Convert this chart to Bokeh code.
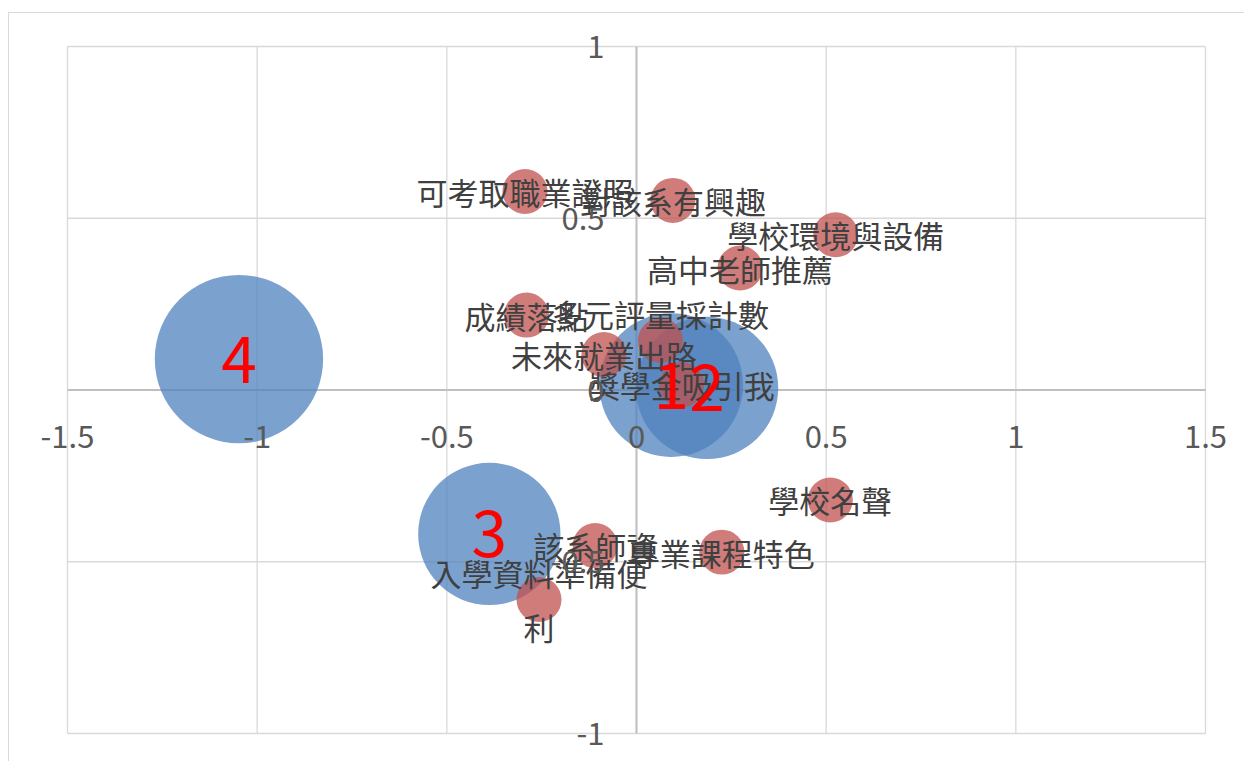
from bokeh.plotting import figure
from bokeh.models import ColumnDataSource, FixedTicker, Range1d, LinearAxis
from bokeh.core.properties import value
from bokeh.embed import file_html
from bokeh.resources import INLINE
import numpy as np

# ---------------- data ----------------
factor_labels = [
    "可考取職業證照", "對該系有興趣", "學校環境與設備", "高中老師推薦",
    "成績落點", "多元評量採計數\n\u3000", "未來就業出路", "獎學金吸引我",
    "學校名聲", "該系師資", "專業課程特色", "入學資料準備便\n利",
]
factor_x = [-0.294, 0.096, 0.525, 0.273, -0.290, 0.063, -0.086, 0.119,
            0.511, -0.109, 0.225, -0.257]
factor_y = [0.578, 0.552, 0.452, 0.355, 0.218, 0.144, 0.103, 0.015,
            -0.320, -0.453, -0.472, -0.610]
factor_size = [1, 1, 1, 1, 1, 1, 1, 1, 1, 1, 1, 1]

cluster_labels = ["1", "2", "3", "4"]
cluster_x = [0.0915, 0.186, -0.388, -1.048]
cluster_y = [0.0145, 0.006, -0.419, 0.090]
cluster_size = [10.2, 10.0, 10.0, 14.0]

x_ticks = [-1.5, -1, -0.5, 0, 0.5, 1, 1.5]
x_tick_labels = ["-1.5", "-1", "-0.5", "0", "0.5", "1", "1.5"]
y_ticks = [-1, -0.5, 0, 0.5, 1]
y_tick_labels = ["-1", "-0.5", "0", "0.5", "1"]

# ---------------- layout / styling ----------------
BASE_D = 45.0  # screen diameter of a size-1 bubble
FONT = "Noto Sans CJK TC"
GRID = "#d9d9d9"
AXIS = "#bfbfbf"

W, H = 1236, 749                 # canvas size
PA_W, PA_H = 1138, 687           # plot area size in pixels
PAD_L, PAD_R, PAD_T, PAD_B = 58, 40, 33, 29

x_lo, x_hi = x_ticks[0], x_ticks[-1]
y_lo, y_hi = y_ticks[0], y_ticks[-1]
ux = (x_hi - x_lo) / PA_W
uy = (y_hi - y_lo) / PA_H

p = figure(width=W, height=H, output_backend="svg", toolbar_location=None,
           x_range=Range1d(x_lo - PAD_L * ux, x_hi + PAD_R * ux),
           y_range=Range1d(y_lo - PAD_B * uy, y_hi + PAD_T * uy),
           x_axis_location=None, y_axis_location=None, title=None,
           min_border=0)
p.styles = {"margin-left": "8px", "margin-top": "12px",
            "border-left": "1px solid #d9d9d9", "border-top": "1px solid #d9d9d9"}
p.background_fill_color = "white"
p.border_fill_color = "white"
p.outline_line_color = None
p.grid.visible = False

# gridlines (bounded to the plot area)
p.segment(x0=x_ticks, y0=[y_lo] * len(x_ticks), x1=x_ticks, y1=[y_hi] * len(x_ticks),
          line_color=GRID, line_width=1.3)
p.segment(x0=[x_lo] * len(y_ticks), y0=y_ticks, x1=[x_hi] * len(y_ticks), y1=y_ticks,
          line_color=GRID, line_width=1.3)
# axis lines crossing at 0
p.segment(x0=[x_lo, 0], y0=[0, y_lo], x1=[x_hi, 0], y1=[0, y_hi],
          line_color=AXIS, line_width=2)


def make_axis(ticks, labels, standoff):
    ax = LinearAxis(fixed_location=0, ticker=FixedTicker(ticks=ticks),
                    major_label_overrides={t: l for t, l in zip(ticks, labels)},
                    bounds=(ticks[0], ticks[-1]))
    ax.axis_line_color = None
    ax.major_tick_line_color = None
    ax.minor_tick_line_color = None
    ax.major_tick_out = 0
    ax.major_tick_in = 0
    ax.major_label_standoff = standoff
    ax.major_label_text_font = FONT
    ax.major_label_text_font_size = "31px"
    ax.major_label_text_color = "#595959"
    return ax


p.add_layout(make_axis(x_ticks, x_tick_labels, 35), "below")
p.add_layout(make_axis(y_ticks, y_tick_labels, 32), "left")

csrc = ColumnDataSource(dict(x=cluster_x, y=cluster_y, t=cluster_labels,
                             d=[BASE_D * np.sqrt(s) for s in cluster_size]))
fsrc = ColumnDataSource(dict(x=factor_x, y=factor_y, t=factor_labels,
                             d=[BASE_D * np.sqrt(s) for s in factor_size]))

p.scatter("x", "y", size="d", source=csrc, fill_color="#4F81BD", fill_alpha=0.75,
          line_color=None)
p.scatter("x", "y", size="d", source=fsrc, fill_color="#C0504D", fill_alpha=0.75,
          line_color=None)

p.text("x", "y", text="t", source=fsrc, text_font=value(FONT), text_font_size="31px",
       text_color="#404040", text_align="center", text_baseline="middle",
       text_line_height=1.22)
p.text("x", "y", text="t", source=csrc, text_font=value(FONT), text_font_size="64px",
       text_color="#FF0000", text_align="center", text_baseline="middle")

open("out.html", "w").write(file_html(p, INLINE))
